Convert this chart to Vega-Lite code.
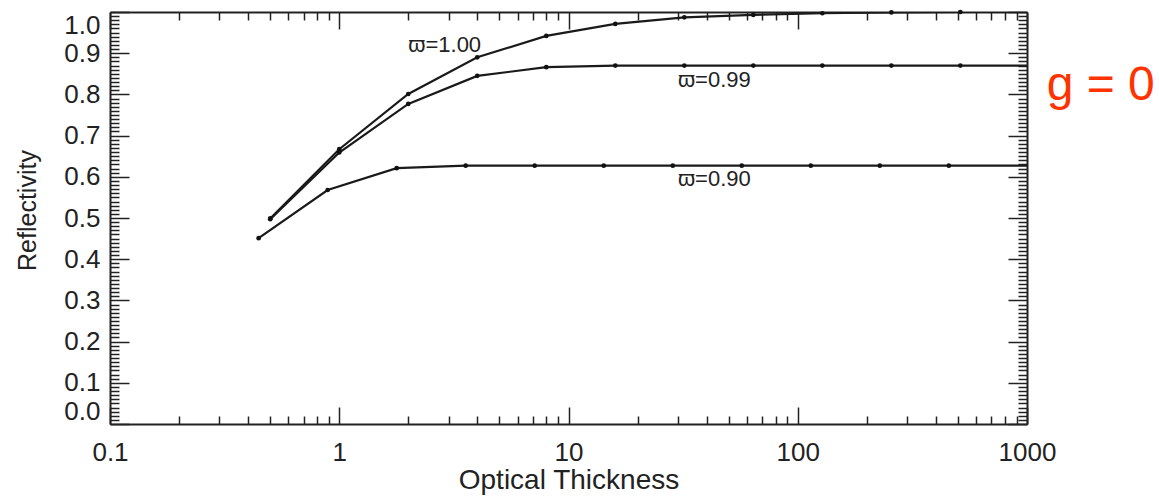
{
  "$schema": "https://vega.github.io/schema/vega-lite/v6.json",
  "width": 917,
  "height": 412,
  "autosize": {"type": "none"},
  "padding": {"left": 110, "top": 12, "right": 132, "bottom": 78},
  "background": "white",
  "config": {"view": {"stroke": null}, "font": "Liberation Sans"},
  "data": {
    "values": [
      {"omega": "1.00", "tau": 0.5, "refl": 0.499},
      {"omega": "1.00", "tau": 1, "refl": 0.667},
      {"omega": "1.00", "tau": 2, "refl": 0.801},
      {"omega": "1.00", "tau": 4, "refl": 0.890},
      {"omega": "1.00", "tau": 8, "refl": 0.942},
      {"omega": "1.00", "tau": 16, "refl": 0.971},
      {"omega": "1.00", "tau": 32, "refl": 0.987},
      {"omega": "1.00", "tau": 64, "refl": 0.993},
      {"omega": "1.00", "tau": 128, "refl": 0.997},
      {"omega": "1.00", "tau": 256, "refl": 0.999},
      {"omega": "1.00", "tau": 512, "refl": 1.0},
      {"omega": "1.00", "tau": 1000, "refl": 1.0},
      {"omega": "0.99", "tau": 0.5, "refl": 0.497},
      {"omega": "0.99", "tau": 1, "refl": 0.659},
      {"omega": "0.99", "tau": 2, "refl": 0.777},
      {"omega": "0.99", "tau": 4, "refl": 0.845},
      {"omega": "0.99", "tau": 8, "refl": 0.866},
      {"omega": "0.99", "tau": 16, "refl": 0.870},
      {"omega": "0.99", "tau": 32, "refl": 0.870},
      {"omega": "0.99", "tau": 64, "refl": 0.870},
      {"omega": "0.99", "tau": 128, "refl": 0.870},
      {"omega": "0.99", "tau": 256, "refl": 0.870},
      {"omega": "0.99", "tau": 512, "refl": 0.870},
      {"omega": "0.99", "tau": 1000, "refl": 0.870},
      {"omega": "0.90", "tau": 0.445, "refl": 0.451},
      {"omega": "0.90", "tau": 0.89, "refl": 0.568},
      {"omega": "0.90", "tau": 1.78, "refl": 0.621},
      {"omega": "0.90", "tau": 3.56, "refl": 0.627},
      {"omega": "0.90", "tau": 7.12, "refl": 0.627},
      {"omega": "0.90", "tau": 14.25, "refl": 0.627},
      {"omega": "0.90", "tau": 28.5, "refl": 0.627},
      {"omega": "0.90", "tau": 57, "refl": 0.627},
      {"omega": "0.90", "tau": 114, "refl": 0.627},
      {"omega": "0.90", "tau": 228, "refl": 0.627},
      {"omega": "0.90", "tau": 456, "refl": 0.627},
      {"omega": "0.90", "tau": 1000, "refl": 0.627}
    ]
  },
  "layer": [
    {
      "mark": {"type": "line", "color": "#1a1a1a", "strokeWidth": 2.2, "clip": true},
      "encoding": {
        "x": {
          "field": "tau", "type": "quantitative",
          "scale": {"type": "log", "domain": [0.1, 1000], "nice": false},
          "axis": {
            "orient": "bottom",
            "values": [0.1, 0.2, 0.3, 0.4, 0.5, 0.6, 0.7, 0.8, 0.9, 1, 2, 3, 4, 5, 6, 7, 8, 9, 10, 20, 30, 40, 50, 60, 70, 80, 90, 100, 200, 300, 400, 500, 600, 700, 800, 900, 1000],
            "tickSize": {"condition": {"test": "abs(log(datum.value)/LN10 - round(log(datum.value)/LN10)) < 0.001", "value": -17}, "value": -8},
            "tickWidth": 1.5, "tickColor": "#222",
            "domainColor": "#222", "domainWidth": 2,
            "grid": false,
            "labelExpr": "abs(log(datum.value)/LN10 - round(log(datum.value)/LN10)) < 0.001 ? format(datum.value, '~g') : ''",
            "labelFontSize": 26, "labelColor": "#222", "labelPadding": 32,
            "labelOverlap": false, "labelFlush": false, "labelBound": false,
            "title": "Optical Thickness", "titleFontSize": 28, "titleFontWeight": "normal",
            "titleColor": "#222", "titleY": 64, "titleBaseline": "alphabetic"
          }
        },
        "y": {
          "field": "refl", "type": "quantitative",
          "scale": {"domain": [0, 1], "zero": false, "nice": false},
          "axis": {
            "orient": "left",
            "values": [0, 0.01, 0.02, 0.03, 0.04, 0.05, 0.06, 0.07, 0.08, 0.09, 0.1, 0.11, 0.12, 0.13, 0.14, 0.15, 0.16, 0.17, 0.18, 0.19, 0.2, 0.21, 0.22, 0.23, 0.24, 0.25, 0.26, 0.27, 0.28, 0.29, 0.3, 0.31, 0.32, 0.33, 0.34, 0.35, 0.36, 0.37, 0.38, 0.39, 0.4, 0.41, 0.42, 0.43, 0.44, 0.45, 0.46, 0.47, 0.48, 0.49, 0.5, 0.51, 0.52, 0.53, 0.54, 0.55, 0.56, 0.57, 0.58, 0.59, 0.6, 0.61, 0.62, 0.63, 0.64, 0.65, 0.66, 0.67, 0.68, 0.69, 0.7, 0.71, 0.72, 0.73, 0.74, 0.75, 0.76, 0.77, 0.78, 0.79, 0.8, 0.81, 0.82, 0.83, 0.84, 0.85, 0.86, 0.87, 0.88, 0.89, 0.9, 0.91, 0.92, 0.93, 0.94, 0.95, 0.96, 0.97, 0.98, 0.99, 1],
            "tickSize": {"condition": {"test": "abs(datum.value*10 - round(datum.value*10)) < 0.001", "value": -19}, "value": -9},
            "tickWidth": 1.5, "tickColor": "#222",
            "domainColor": "#222", "domainWidth": 2,
            "grid": false,
            "labelExpr": "abs(datum.value*10 - round(datum.value*10)) < 0.001 ? format(datum.value, '.1f') : ''",
            "labelFontSize": 26, "labelColor": "#222", "labelPadding": 29,
            "labelOverlap": false, "labelFlush": true, "labelBound": false,
            "title": "Reflectivity", "titleFontSize": 25, "titleFontWeight": "normal",
            "titleColor": "#222", "titleX": -75, "titleY": 198, "titleAngle": -90,
            "titleAlign": "center", "titleBaseline": "alphabetic"
          }
        },
        "detail": {"field": "omega", "type": "nominal"}
      }
    },
    {
      "transform": [{"filter": "datum.tau < 1000"}],
      "mark": {"type": "circle", "color": "#111", "opacity": 1, "size": 22},
      "encoding": {
        "x": {
          "field": "tau", "type": "quantitative",
          "scale": {"type": "log", "domain": [0.1, 1000], "nice": false},
          "axis": {
            "orient": "top",
            "values": [0.1, 0.2, 0.3, 0.4, 0.5, 0.6, 0.7, 0.8, 0.9, 1, 2, 3, 4, 5, 6, 7, 8, 9, 10, 20, 30, 40, 50, 60, 70, 80, 90, 100, 200, 300, 400, 500, 600, 700, 800, 900, 1000],
            "tickSize": {"condition": {"test": "abs(log(datum.value)/LN10 - round(log(datum.value)/LN10)) < 0.001", "value": -17}, "value": -8},
            "tickWidth": 1.5, "tickColor": "#222",
            "domainColor": "#222", "domainWidth": 2,
            "grid": false, "labels": false, "title": null
          }
        },
        "y": {
          "field": "refl", "type": "quantitative",
          "scale": {"domain": [0, 1], "zero": false, "nice": false},
          "axis": {
            "orient": "right",
            "values": [0, 0.01, 0.02, 0.03, 0.04, 0.05, 0.06, 0.07, 0.08, 0.09, 0.1, 0.11, 0.12, 0.13, 0.14, 0.15, 0.16, 0.17, 0.18, 0.19, 0.2, 0.21, 0.22, 0.23, 0.24, 0.25, 0.26, 0.27, 0.28, 0.29, 0.3, 0.31, 0.32, 0.33, 0.34, 0.35, 0.36, 0.37, 0.38, 0.39, 0.4, 0.41, 0.42, 0.43, 0.44, 0.45, 0.46, 0.47, 0.48, 0.49, 0.5, 0.51, 0.52, 0.53, 0.54, 0.55, 0.56, 0.57, 0.58, 0.59, 0.6, 0.61, 0.62, 0.63, 0.64, 0.65, 0.66, 0.67, 0.68, 0.69, 0.7, 0.71, 0.72, 0.73, 0.74, 0.75, 0.76, 0.77, 0.78, 0.79, 0.8, 0.81, 0.82, 0.83, 0.84, 0.85, 0.86, 0.87, 0.88, 0.89, 0.9, 0.91, 0.92, 0.93, 0.94, 0.95, 0.96, 0.97, 0.98, 0.99, 1],
            "tickSize": {"condition": {"test": "abs(datum.value*10 - round(datum.value*10)) < 0.001", "value": -19}, "value": -9},
            "tickWidth": 1.5, "tickColor": "#222",
            "domainColor": "#222", "domainWidth": 2,
            "grid": false, "labels": false, "title": null
          }
        }
      }
    },
    {
      "data": {
        "values": [
          {"tau": 2, "refl": 0.904, "label": "ϖ=1.00"},
          {"tau": 30, "refl": 0.817, "label": "ϖ=0.99"},
          {"tau": 30, "refl": 0.578, "label": "ϖ=0.90"}
        ]
      },
      "mark": {"type": "text", "align": "left", "baseline": "alphabetic", "fontSize": 22, "color": "#222"},
      "encoding": {
        "x": {"field": "tau", "type": "quantitative", "scale": {"type": "log", "domain": [0.1, 1000], "nice": false}, "axis": null},
        "y": {"field": "refl", "type": "quantitative", "scale": {"domain": [0, 1], "zero": false, "nice": false}, "axis": null},
        "text": {"field": "label", "type": "nominal"}
      }
    },
    {
      "data": {"values": [{"tau": 1218, "refl": 0.787, "label": "g = 0"}]},
      "mark": {"type": "text", "align": "left", "baseline": "alphabetic", "fontSize": 48, "color": "#FF3300"},
      "encoding": {
        "x": {"field": "tau", "type": "quantitative", "scale": {"type": "log", "domain": [0.1, 1000], "nice": false}, "axis": null},
        "y": {"field": "refl", "type": "quantitative", "scale": {"domain": [0, 1], "zero": false, "nice": false}, "axis": null},
        "text": {"field": "label", "type": "nominal"}
      }
    }
  ],
  "resolve": {"axis": {"x": "independent", "y": "independent"}}
}
